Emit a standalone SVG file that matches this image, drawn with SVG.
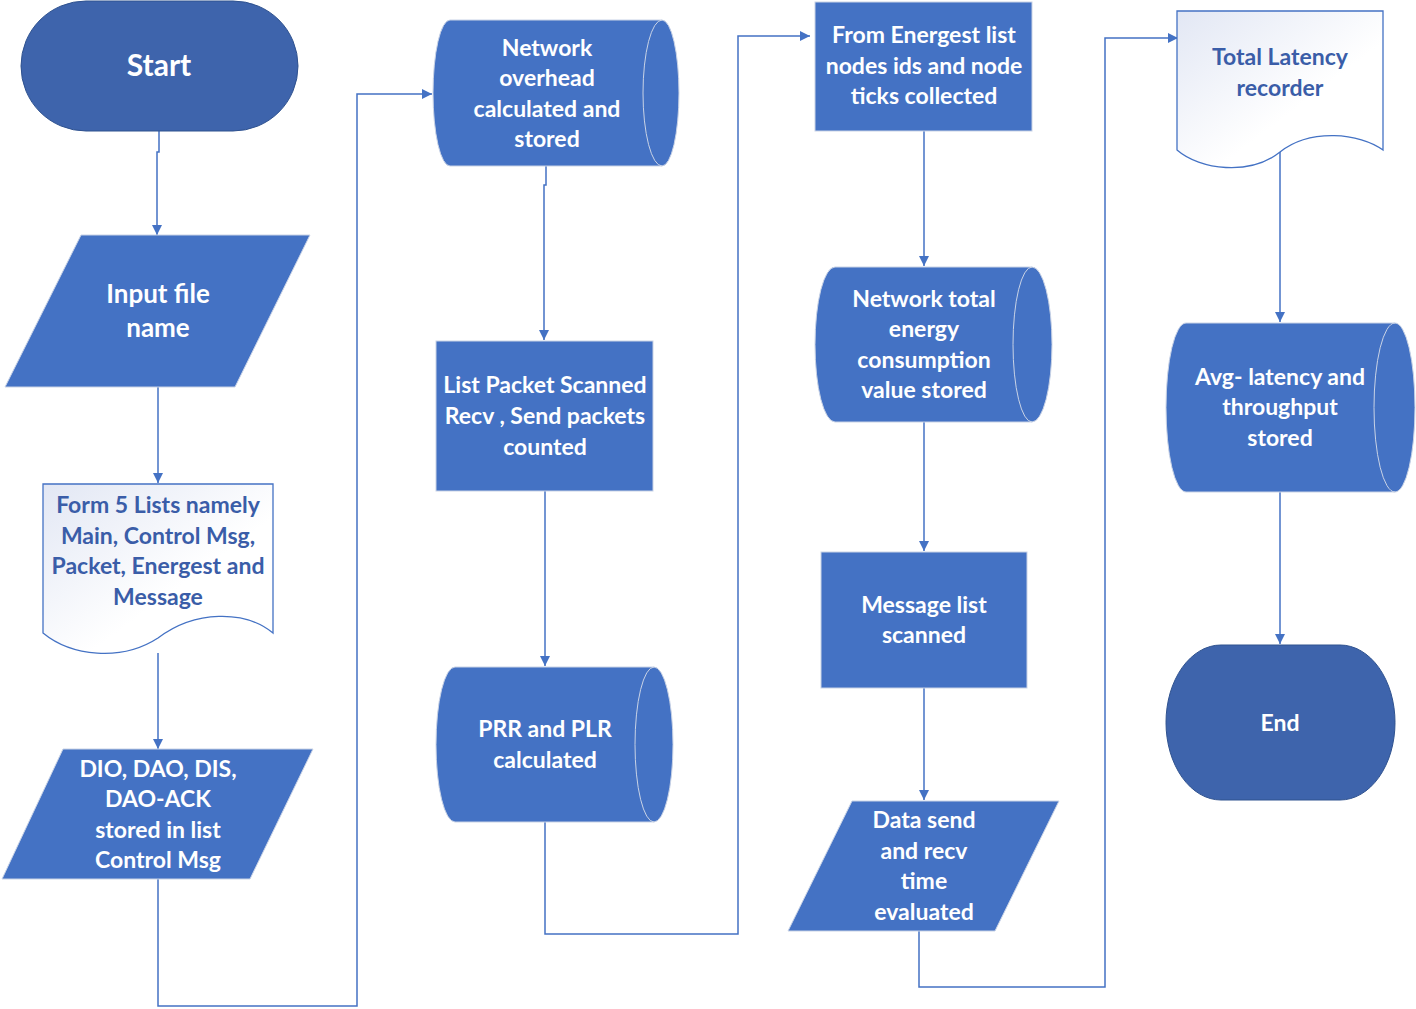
<svg xmlns="http://www.w3.org/2000/svg" width="1416" height="1009" viewBox="0 0 1416 1009">
<defs>
<linearGradient id="docg" x1="0" y1="0" x2="1" y2="1">
<stop offset="0" stop-color="#E2E7F4"/>
<stop offset="0.6" stop-color="#FFFFFF"/>
</linearGradient>
<marker id="arr" viewBox="0 0 10 10" refX="10" refY="5" markerWidth="10" markerHeight="10" markerUnits="userSpaceOnUse" orient="auto">
<path d="M0,0 L10,5 L0,10 Z" fill="#4472C4"/>
</marker>
<style>
.term{fill:#3E64AC;stroke:#2F528F;stroke-width:1}
.box{fill:#4472C4;stroke:#C9D3E6;stroke-width:1}
.inner{fill:none;stroke:#C9D3E6;stroke-width:1}
.doc{fill:url(#docg);stroke:#4472C4;stroke-width:1.3}
.t{font-family:Lato,"Liberation Sans",sans-serif;font-weight:bold;font-size:23px;fill:#FFFFFF;text-anchor:middle}
.tl{font-family:Lato,"Liberation Sans",sans-serif;font-weight:bold;font-size:26px;fill:#FFFFFF;text-anchor:middle}
.td{font-family:Lato,"Liberation Sans",sans-serif;font-weight:bold;font-size:23px;fill:#3A5DA8;text-anchor:middle}
.tb{font-family:Lato,"Liberation Sans",sans-serif;font-weight:bold;font-size:30px;fill:#FFFFFF;text-anchor:middle}
.c{fill:none;stroke:#4472C4;stroke-width:1.5}
</style>
</defs>
<rect width="1416" height="1009" fill="#FFFFFF"/>
<g id="connectors">
<path class="c" d="M159,131 V152 H157 V235" marker-end="url(#arr)"/>
<path class="c" d="M158,387 V483" marker-end="url(#arr)"/>
<path class="c" d="M158,653 V749" marker-end="url(#arr)"/>
<path class="c" d="M158,879 V1006 H357 V94 H432" marker-end="url(#arr)"/>
<path class="c" d="M546,166 V185 H544 V340" marker-end="url(#arr)"/>
<path class="c" d="M545,491 V666" marker-end="url(#arr)"/>
<path class="c" d="M545,822 V934 H738 V36 H810" marker-end="url(#arr)"/>
<path class="c" d="M924,131 V266" marker-end="url(#arr)"/>
<path class="c" d="M924,422 V551" marker-end="url(#arr)"/>
<path class="c" d="M924,688 V800" marker-end="url(#arr)"/>
<path class="c" d="M919,931 V987 H1105 V38 H1178" marker-end="url(#arr)"/>
<path class="c" d="M1280,152 V322" marker-end="url(#arr)"/>
<path class="c" d="M1280,492 V644" marker-end="url(#arr)"/>
</g>
<g id="start">
<rect class="term" x="21" y="1" width="277" height="130" rx="65" ry="65"/>
<text class="tb" x="159" y="76">Start</text>
</g>
<g id="input">
<polygon class="box" points="81,235 310,235 235,387 5,387"/>
<text class="tl" x="158" y="303">Input file</text>
<text class="tl" x="158" y="337">name</text>
</g>
<g id="form5">
<path class="doc" d="M43,484 H273 V633 C245,610 195,610 158,638 C121,662 71,656 43,633 Z"/>
<text class="td" x="158" y="513">Form 5 Lists namely</text>
<text class="td" x="158" y="544">Main, Control Msg,</text>
<text class="td" x="158" y="574">Packet, Energest and</text>
<text class="td" x="158" y="605">Message</text>
</g>
<g id="dio">
<polygon class="box" points="63,749 313,749 250,879 2,879"/>
<text class="t" x="158" y="777">DIO, DAO, DIS,</text>
<text class="t" x="158" y="807">DAO-ACK</text>
<text class="t" x="158" y="838">stored in list</text>
<text class="t" x="158" y="868">Control Msg</text>
</g>
<g id="overhead">
<path class="box" d="M450,20 H662 A17,73 0 0 1 662,166 H450 A17,73 0 0 1 450,20 Z"/>
<path class="inner" d="M662,20 A19,73 0 0 0 662,166"/>
<text class="t" x="547" y="56">Network</text>
<text class="t" x="547" y="86">overhead</text>
<text class="t" x="547" y="117">calculated and</text>
<text class="t" x="547" y="147">stored</text>
</g>
<g id="listpacket">
<rect class="box" x="436" y="341" width="217" height="150"/>
<text class="t" x="545" y="393">List Packet Scanned</text>
<text class="t" x="545" y="424">Recv , Send packets</text>
<text class="t" x="545" y="455">counted</text>
</g>
<g id="prr">
<path class="box" d="M455,667 H654 A19,77.5 0 0 1 654,822 H455 A19,77.5 0 0 1 455,667 Z"/>
<path class="inner" d="M654,667 A19,77.5 0 0 0 654,822"/>
<text class="t" x="545" y="737">PRR and PLR</text>
<text class="t" x="545" y="768">calculated</text>
</g>
<g id="energest">
<rect class="box" x="815" y="2" width="217" height="129"/>
<text class="t" x="924" y="43">From Energest list</text>
<text class="t" x="924" y="74">nodes ids and node</text>
<text class="t" x="924" y="104">ticks collected</text>
</g>
<g id="energy">
<path class="box" d="M835,267 H1032 A20,77.5 0 0 1 1032,422 H835 A20,77.5 0 0 1 835,267 Z"/>
<path class="inner" d="M1032,267 A19,77.5 0 0 0 1032,422"/>
<text class="t" x="924" y="307">Network total</text>
<text class="t" x="924" y="337">energy</text>
<text class="t" x="924" y="368">consumption</text>
<text class="t" x="924" y="398">value stored</text>
</g>
<g id="message">
<rect class="box" x="821" y="552" width="206" height="136"/>
<text class="t" x="924" y="613">Message list</text>
<text class="t" x="924" y="643">scanned</text>
</g>
<g id="datasend">
<polygon class="box" points="852,801 1059,801 995,931 788,931"/>
<text class="t" x="924" y="828">Data send</text>
<text class="t" x="924" y="859">and recv</text>
<text class="t" x="924" y="889">time</text>
<text class="t" x="924" y="920">evaluated</text>
</g>
<g id="latency">
<path class="doc" d="M1177,11 H1383 V150 C1360,133 1310,128 1280,152 C1250,176 1200,170 1177,150 Z"/>
<text class="td" x="1280" y="65">Total Latency</text>
<text class="td" x="1280" y="96">recorder</text>
</g>
<g id="avg">
<path class="box" d="M1186,323 H1395 A20,84.5 0 0 1 1395,492 H1186 A20,84.5 0 0 1 1186,323 Z"/>
<path class="inner" d="M1395,323 A21,84.5 0 0 0 1395,492"/>
<text class="t" x="1280" y="385">Avg- latency and</text>
<text class="t" x="1280" y="415">throughput</text>
<text class="t" x="1280" y="446">stored</text>
</g>
<g id="end">
<rect class="term" x="1166" y="645" width="229" height="155" rx="55" ry="77.5"/>
<text class="t" x="1280" y="731">End</text>
</g>
</svg>
